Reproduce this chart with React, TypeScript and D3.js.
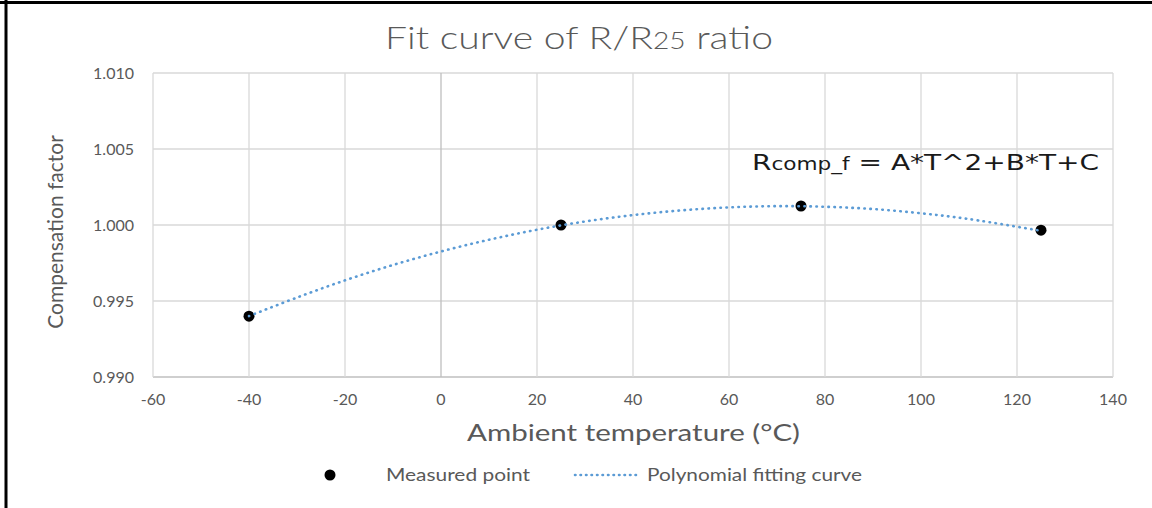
import React from "react";
import * as d3 from "d3";

const measuredT = [-40, 25, 75, 125];
const measuredR = [0.994, 1.0, 1.00125, 0.99966];

const curveT = [-40, -30, -20, -10, 0, 10, 20, 30, 40, 50, 60, 70, 80, 90, 100, 110, 125];
const curveR = [0.99401, 0.99523, 0.99636, 0.99737, 0.99826, 0.99903, 0.99969, 1.00023, 1.00065, 1.00096, 1.00116, 1.00124, 1.0012, 1.00105, 1.00077, 1.00039, 0.99962];

const xTicks = [-60, -40, -20, 0, 20, 40, 60, 80, 100, 120, 140];
const yTicks = [0.99, 0.995, 1.0, 1.005, 1.01];

const W = 1152;
const H = 508;
const left = 153;
const right = 1113;
const top = 73;
const bottom = 377;

export default function App() {
  const x = d3.scaleLinear().domain([-60, 140]).range([left, right]);
  const y = d3.scaleLinear().domain([0.99, 1.01]).range([bottom, top]);
  const pts: [number, number][] = curveT.map((t, i) => [t, curveR[i]]);
  const line = d3
    .line<[number, number]>()
    .x((d) => x(d[0]))
    .y((d) => y(d[1]))
    .curve(d3.curveCatmullRom.alpha(0.5));
  const font = "Lato, 'Open Sans', sans-serif";
  const grey = "#595959";
  return (
    <svg
      width={W}
      height={H}
      style={{ position: "absolute", left: 0, top: 0, background: "#fff" }}
      fontFamily={font}
    >
      <rect x={0} y={0} width={W} height={H} fill="#fff" />
      {/* frame */}
      <line x1={0} x2={W} y1={2.5} y2={2.5} stroke="#000" strokeWidth={3} />
      <line x1={6} x2={6} y1={0} y2={H} stroke="#000" strokeWidth={3} />

      {/* title */}
      <text x={385} y={49} fontSize={32} fill={grey} fontWeight={300} textLength={388} lengthAdjust="spacingAndGlyphs">
        Fit curve of R/R<tspan fontSize={23}>25</tspan> ratio
      </text>

      {/* gridlines */}
      {yTicks.map((v) => (
        <line key={"gy" + v} x1={left} x2={right} y1={y(v)} y2={y(v)} stroke={v === 0.99 ? "#bfbfbf" : "#d9d9d9"} strokeWidth={1.3} />
      ))}
      {xTicks.map((v) => (
        <line key={"gx" + v} x1={x(v)} x2={x(v)} y1={top} y2={bottom} stroke={v === 0 ? "#bfbfbf" : "#d9d9d9"} strokeWidth={1.3} />
      ))}

      {/* tick labels */}
      {yTicks.map((v) => (
        <text key={"ty" + v} x={134} y={y(v) + 6} textAnchor="end" fontSize={16} fill={grey}>
          {d3.format(".3f")(v)}
        </text>
      ))}
      {xTicks.map((v) => (
        <text key={"tx" + v} x={x(v)} y={405} textAnchor="middle" fontSize={16} fill={grey}>
          {v}
        </text>
      ))}

      {/* axis titles */}
      <text x={467} y={441} fontSize={24} fill={grey} textLength={333} lengthAdjust="spacingAndGlyphs">
        Ambient temperature (°C)
      </text>
      <text
        transform={`translate(63, 232) rotate(-90)`}
        textAnchor="middle"
        fontSize={21}
        fill={grey}
      >
        Compensation factor
      </text>

      {/* measured points */}
      {measuredT.map((t, i) => (
        <circle key={"p" + t} cx={x(t)} cy={y(measuredR[i])} r={5.5} fill="#000" />
      ))}

      {/* fitted curve */}
      <path
        d={line(pts) || ""}
        fill="none"
        stroke="#5B9BD5"
        strokeWidth={2.6}
        strokeDasharray="0.5 5.5"
        strokeLinecap="round"
      />

      {/* equation */}
      <text x={752} y={170} fontFamily="'DejaVu Sans', sans-serif" fontSize={22} fill="#1a1a1a" textLength={347} lengthAdjust="spacingAndGlyphs">
        R<tspan fontSize={17}>comp_f</tspan> = A*T^2+B*T+C
      </text>

      {/* legend */}
      <circle cx={330} cy={475} r={5.5} fill="#000" />
      <text x={386} y={481} fontSize={17} fill={grey} textLength={144} lengthAdjust="spacingAndGlyphs">
        Measured point
      </text>
      <line x1={575} x2={636} y1={475} y2={475} stroke="#5B9BD5" strokeWidth={2.6} strokeDasharray="0.5 5" strokeLinecap="round" />
      <text x={647} y={481} fontSize={17} fill={grey} textLength={215} lengthAdjust="spacingAndGlyphs">
        Polynomial fitting curve
      </text>
    </svg>
  );
}
